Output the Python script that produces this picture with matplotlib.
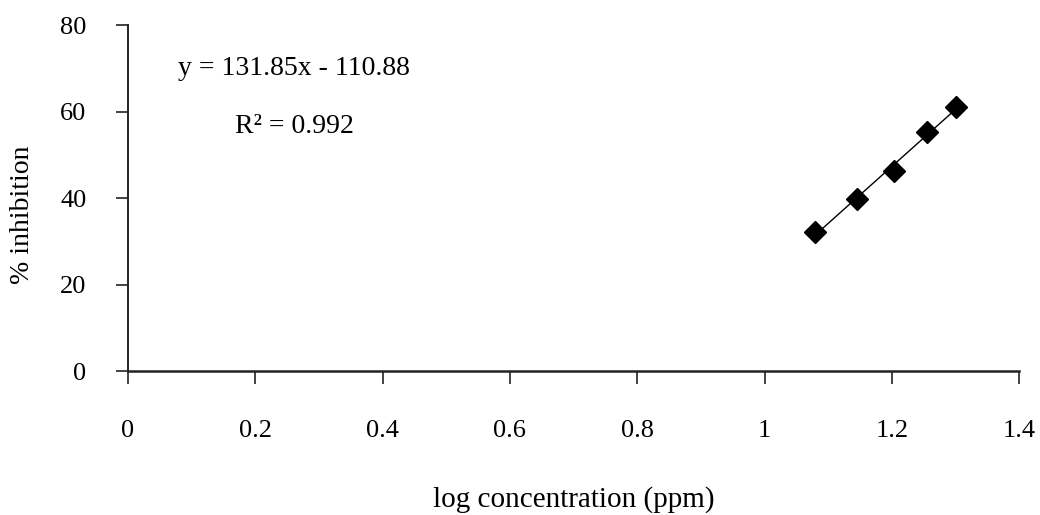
import numpy as np
import matplotlib.pyplot as plt

plt.rcParams['font.family'] = ['Liberation Serif', 'DejaVu Serif']

# Data
log_conc = [1.079, 1.146, 1.204, 1.255, 1.301]
inhibition = [32.2, 39.7, 46.2, 55.2, 61.1]

# Trendline coefficients shown on the chart
slope = 131.85
intercept = -110.88

x_ticks = [0, 0.2, 0.4, 0.6, 0.8, 1.0, 1.2, 1.4]
x_tick_labels = ['0', '0.2', '0.4', '0.6', '0.8', '1', '1.2', '1.4']
y_ticks = [0, 20, 40, 60, 80]

fig = plt.figure(figsize=(10.4, 5.15), dpi=100)
ax = fig.add_axes([0.123, 0.2796, 0.857, 0.6714])

# trendline over the data range
xs = np.array([min(log_conc), max(log_conc)])
ax.plot(xs, slope * xs + intercept, color='black', linewidth=1.0, zorder=2)
ax.plot(log_conc, inhibition, linestyle='none', marker='D', markersize=11,
        color='black', zorder=3)

ax.set_xlim(0, 1.4)
ax.set_ylim(0, 80)
ax.set_xticks(x_ticks)
ax.set_xticklabels(x_tick_labels)
ax.set_yticks(y_ticks)

for s in ['top', 'right']:
    ax.spines[s].set_visible(False)
ax.spines['bottom'].set_linewidth(1.8)
ax.spines['bottom'].set_color('#222222')
ax.spines['left'].set_linewidth(1.4)
ax.spines['left'].set_color('#222222')

ax.tick_params(axis='x', direction='out', length=9, width=1.2, pad=26,
               labelsize=19, color='#222222')
ax.tick_params(axis='y', direction='out', length=9, width=1.2, pad=21,
               labelsize=19, color='#222222')

fig.text(573.5 / 1040, 1 - 507 / 515, 'log concentration (ppm)', fontsize=21,
         ha='center', va='baseline')
fig.text(23 / 1040, 1 - 215 / 515, '% inhibition', fontsize=20,
         rotation=90, ha='center', va='center')

ax.text(0.0786, 68.4, 'y = 131.85x - 110.88', fontsize=20, va='baseline')
ax.text(0.168, 55.0, 'R² = 0.992', fontsize=20, va='baseline')

fig.savefig('out.png', dpi=100)
